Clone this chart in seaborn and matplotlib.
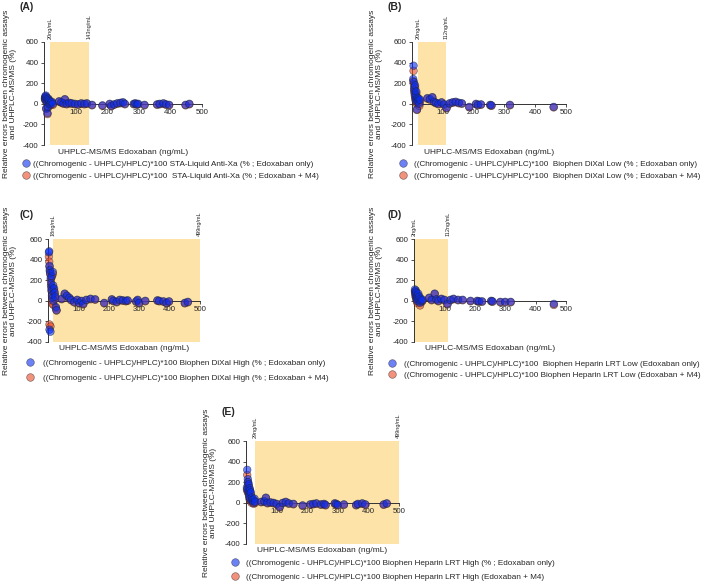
import numpy as np
import pandas as pd
import matplotlib
matplotlib.use("Agg")
import matplotlib.pyplot as plt
import seaborn as sns
from matplotlib.lines import Line2D

sns.set_theme(style="ticks")
plt.rcParams["font.family"] = ["Liberation Sans", "DejaVu Sans"]
plt.rcParams["axes.unicode_minus"] = False

# ---------------- data ----------------
x_ticks = [100, 200, 300, 400, 500]
y_ticks = [-400, -200, 0, 200, 400, 600]
x_label = "UHPLC-MS/MS Edoxaban (ng/mL)"
y_label = "Relative errors between chromogenic assays\nand UHPLC-MS/MS (%)"

A_conc = [3, 4, 5, 6, 7, 8, 9, 10, 11, 12, 14, 15, 16, 18, 20, 22, 25, 28, 48, 55, 62, 66, 72, 80, 88, 98,
          108, 118, 128, 136, 152, 185, 208, 213, 222, 232, 242, 250, 256, 284, 289, 294, 298, 318, 358,
          366, 378, 386, 396, 448, 460]
A_only = [55, 70, 40, 80, -45, 60, 20, 45, -90, -30, 50, 35, 5, 25, -5, 15, 20, 0, 25, 15, 5, 45, 0, 10,
          5, 0, -5, 5, 0, 5, -10, -15, 0, -20, -5, 5, 10, 15, 0, 0, 5, -5, 0, -10, -5, 0, 5, -5, -10, -10, 0]
A_m4 = [45, 60, 30, 70, -50, 50, 10, 35, -100, -40, 40, 25, -5, 15, -15, 5, 10, -10, 20, 10, 0, 40, -5, 5,
        0, -5, -10, 0, -5, 0, -15, -20, -5, -25, -10, 0, 5, 10, -5, -5, 0, -10, -5, -15, -10, -5, 0, -10,
        -15, -15, -5]

B_conc = [4, 5, 6, 7, 8, 9, 10, 11, 12, 13, 14, 15, 16, 18, 20, 22, 24, 26, 50, 58, 66, 72, 78, 86, 96,
          104, 112, 122, 132, 142, 152, 162, 186, 208, 214, 224, 254, 258, 318, 460]
B_only = [240, 370, 210, 160, 130, 100, 180, 60, 80, 40, 120, 20, -55, 60, 30, 50, 0, 40, 55, 45, 65, 20,
          10, 0, 15, -5, -40, 5, 15, 20, 10, 5, -30, 0, -10, -5, -10, -15, -10, -30]
B_m4 = [220, 320, 190, 140, 110, 80, 160, 40, 60, 20, 100, 0, -60, 40, 10, 30, -20, 20, 50, 40, 60, 15, 5,
        -5, 10, -10, -45, 0, 10, 15, 5, 0, -35, -5, -15, -10, -15, -20, -15, -35]

C_conc = [3, 4, 5, 5, 6, 7, 8, 9, 10, 11, 12, 13, 14, 15, 16, 17, 18, 20, 22, 24, 26, 28, 45, 55, 62, 70,
          76, 86, 96, 102, 110, 116, 126, 140, 155, 185, 210, 215, 226, 236, 246, 256, 262, 290, 295, 300,
          320, 360, 366, 380, 390, 398, 450, 460]
C_only = [470, 480, 340, -280, 300, 270, -300, 220, 170, 130, 240, 100, 60, 30, 280, 150, 0, 120, 80, 40,
          -60, -90, 20, 70, 50, 30, 10, -10, 10, -20, 0, -30, 10, 20, 15, -20, 15, 0, -10, 10, 5, 0, 5, -5,
          10, -20, 0, 5, 0, -5, -20, -5, -20, -10]
C_m4 = [430, 380, 330, -230, 290, 260, -250, 200, 150, 100, 230, 50, 0, -30, 260, 120, -40, 100, 60, 20,
        -70, -95, 15, 65, 45, 25, 5, -15, 5, -25, -5, -35, 5, 15, 10, -25, 10, -5, -15, 5, 0, -5, 0, -10,
        5, -25, -5, 0, -5, -10, -25, -10, -25, -15]

D_conc = [3, 4, 5, 6, 7, 8, 9, 10, 11, 12, 14, 16, 18, 20, 22, 25, 28, 50, 58, 68, 74, 80, 90, 100, 110,
          120, 130, 145, 160, 186, 208, 214, 224, 254, 258, 284, 300, 318, 460]
D_only = [110, 90, 60, 100, 40, 80, 20, 50, 0, 30, 70, 10, 40, -20, 20, 0, 10, 30, 10, 70, 15, 0, 20, 10,
          -30, 10, 20, 10, 10, 0, 0, -5, -5, 0, -5, -10, -10, -10, -30]
D_m4 = [90, 70, 40, 80, 20, 60, 0, 30, -20, 10, 50, -10, 20, -45, 0, -10, 0, 25, 5, 65, 10, -5, 15, 5,
        -35, 5, 15, 5, 5, -5, -5, -10, -10, -5, -10, -15, -15, -15, -40]

E_conc = [3, 4, 5, 6, 7, 8, 9, 10, 11, 12, 13, 14, 16, 18, 20, 22, 25, 28, 30, 50, 60, 65, 70, 80, 90,
          100, 110, 120, 130, 140, 155, 185, 210, 220, 230, 245, 255, 260, 290, 295, 300, 320, 360, 366,
          380, 390, 450, 460]
E_only = [150, 320, 130, 230, 200, 110, 180, 90, 60, 140, 120, 40, 100, 20, 50, 30, 0, 40, 10, 10, 15, 50,
          0, 5, 0, -10, -40, 0, 10, -5, -10, -25, -15, -10, -5, -15, -10, -20, -5, -10, -20, -15, -20, -10,
          -5, -15, -15, -5]
E_m4 = [130, 270, 110, 200, 170, 90, 160, 70, 40, 120, 100, 20, 80, 0, 30, 10, -10, 20, 0, 5, 10, 45, -5,
        0, -5, -15, -45, -5, 5, -10, -15, -30, -20, -15, -10, -20, -15, -25, -10, -15, -25, -20, -25, -15,
        -10, -20, -20, -10]

pre = "((Chromogenic - UHPLC)/HPLC)*100"
A_labels = [pre + " STA-Liquid Anti-Xa (% ; Edoxaban only)", pre + "  STA-Liquid Anti-Xa (% ; Edoxaban + M4)"]
B_labels = [pre + "  Biophen DiXal Low (% ; Edoxaban only)", pre + "  Biophen DiXal Low (% ; Edoxaban + M4)"]
C_labels = [pre + " Biophen DiXal High (% ; Edoxaban only)", pre + " Biophen DiXal High (% ; Edoxaban + M4)"]
D_labels = [pre + "  Biophen Heparin LRT Low (Edoxaban only)", pre + " Biophen Heparin LRT Low (Edoxaban + M4)"]
E_labels = [pre + " Biophen Heparin LRT High (% ; Edoxaban only)", pre + " Biophen Heparin LRT High (Edoxaban + M4)"]

A_range = [20, 143]
B_range = [20, 112]
C_range = [18, 499]
D_range = [2, 112]
E_range = [29, 499]
A_range_labels = ["20ng/mL", "143ng/mL"]
B_range_labels = ["20ng/mL", "112ng/mL"]
C_range_labels = ["18ng/mL", "499ng/mL"]
D_range_labels = ["2ng/mL", "112ng/mL"]
E_range_labels = ["29ng/mL", "499ng/mL"]

# ---------------- layout ----------------
W, H = 709, 585
fig = plt.figure(figsize=(W / 100, H / 100), dpi=100)

BLUE = "#0a2ef0"
RED = "#ea4a25"
SHADE = "#fde3a8"


def fx(px):
    return px / W


def fy(py):
    return 1 - py / H


panels = [
    dict(tag="(A)", conc=A_conc, only=A_only, m4=A_m4, labels=A_labels, rng=A_range, rlab=A_range_labels,
         box=(44, 202, 42, 145), tagpos=(19, 7), ylx=10, leg=(22.4, 160, 0.45, 0.5)),
    dict(tag="(B)", conc=B_conc, only=B_only, m4=B_m4, labels=B_labels, rng=B_range, rlab=B_range_labels,
         box=(412, 566, 42, 145), tagpos=(388, 7), ylx=376, leg=(399.7, 160, 0.95, 0.5)),
    dict(tag="(C)", conc=C_conc, only=C_only, m4=C_m4, labels=C_labels, rng=C_range, rlab=C_range_labels,
         box=(48, 200, 239, 342), tagpos=(19, 215), ylx=10, leg=(26.7, 359, 1.15, 0.88)),
    dict(tag="(D)", conc=D_conc, only=D_only, m4=D_m4, labels=D_labels, rng=D_range, rlab=D_range_labels,
         box=(414, 566, 239, 342), tagpos=(388, 215), ylx=376, leg=(389.0, 360, 0.95, 0.4)),
    dict(tag="(E)", conc=E_conc, only=E_only, m4=E_m4, labels=E_labels, rng=E_range, rlab=E_range_labels,
         box=(246, 399, 441, 544), tagpos=(221, 412), ylx=210, leg=(231.7, 559, 0.93, 0.75)),
]

for p in panels:
    l, r, t, b = p["box"]
    ax = fig.add_axes([fx(l), fy(b), (r - l) / W, (b - t) / H])
    lab_only, lab_m4 = p["labels"]
    n = len(p["conc"])
    df = pd.DataFrame({
        "conc": list(p["conc"]) + list(p["conc"]),
        "err": list(p["m4"]) + list(p["only"]),
        "series": [lab_m4] * n + [lab_only] * n,
    })
    ax.axvspan(p["rng"][0], p["rng"][1], color=SHADE, zorder=0, lw=0)
    sns.scatterplot(data=df, x="conc", y="err", hue="series", hue_order=[lab_only, lab_m4],
                    palette=[BLUE, RED], s=30, alpha=0.6, edgecolor="#222222", linewidth=0.45,
                    ax=ax, zorder=3, clip_on=False, legend=False)
    ax.set_xlim(0, 500)
    ax.set_ylim(-400, 600)
    ax.set_xticks(x_ticks)
    ax.set_yticks(y_ticks)
    ax.set_xticklabels([str(v) for v in x_ticks])
    ax.set_yticklabels([str(v) for v in y_ticks])
    ax.set_xlabel("")
    ax.set_ylabel("")
    for s in ["top", "right"]:
        ax.spines[s].set_visible(False)
    ax.spines["bottom"].set_position(("data", 0))
    ax.spines["bottom"].set_bounds(0, 500)
    ax.spines["left"].set_bounds(-400, 600)
    for s in ["bottom", "left"]:
        ax.spines[s].set_linewidth(0.7)
        ax.spines[s].set_color("#333333")
        ax.spines[s].set_zorder(2)
    ax.tick_params(axis="both", length=2.5, width=0.6, labelsize=5.7, pad=1.5, color="#333333")
    ax.patch.set_alpha(0)

    for xv, txt in zip(p["rng"], p["rlab"]):
        ax.annotate(txt, xy=(xv, 600), xytext=(0, 2), textcoords="offset points", rotation=90,
                    ha="center", va="bottom", fontsize=4, annotation_clip=False)

    # x label, y label, tag
    fig.text(fx((l + r) / 2), fy(b + 7), x_label, ha="center", va="center", fontsize=6)
    fig.text(fx(p["ylx"]), fy((t + b) / 2), y_label, ha="center", va="center", rotation=90,
             fontsize=6, multialignment="center", linespacing=1.15)
    fig.text(fx(p["tagpos"][0]), fy(p["tagpos"][1]), p["tag"], ha="left", va="center",
             fontsize=7.5, fontweight="bold")

    lx, ly, pad, sp = p["leg"]
    handles = [Line2D([], [], marker="o", linestyle="", markersize=5.5, markerfacecolor=BLUE,
                      markeredgecolor="#222222", markeredgewidth=0.45, alpha=0.6),
               Line2D([], [], marker="o", linestyle="", markersize=5.5, markerfacecolor=RED,
                      markeredgecolor="#222222", markeredgewidth=0.45, alpha=0.6)]
    ax.legend(handles, [lab_only, lab_m4], loc="upper left", bbox_to_anchor=(fx(lx), fy(ly)),
              bbox_transform=fig.transFigure, frameon=False, fontsize=5.9, handlelength=0.85,
              handletextpad=pad, labelspacing=sp, borderpad=0, borderaxespad=0)

fig.savefig("out.png", dpi=100)
